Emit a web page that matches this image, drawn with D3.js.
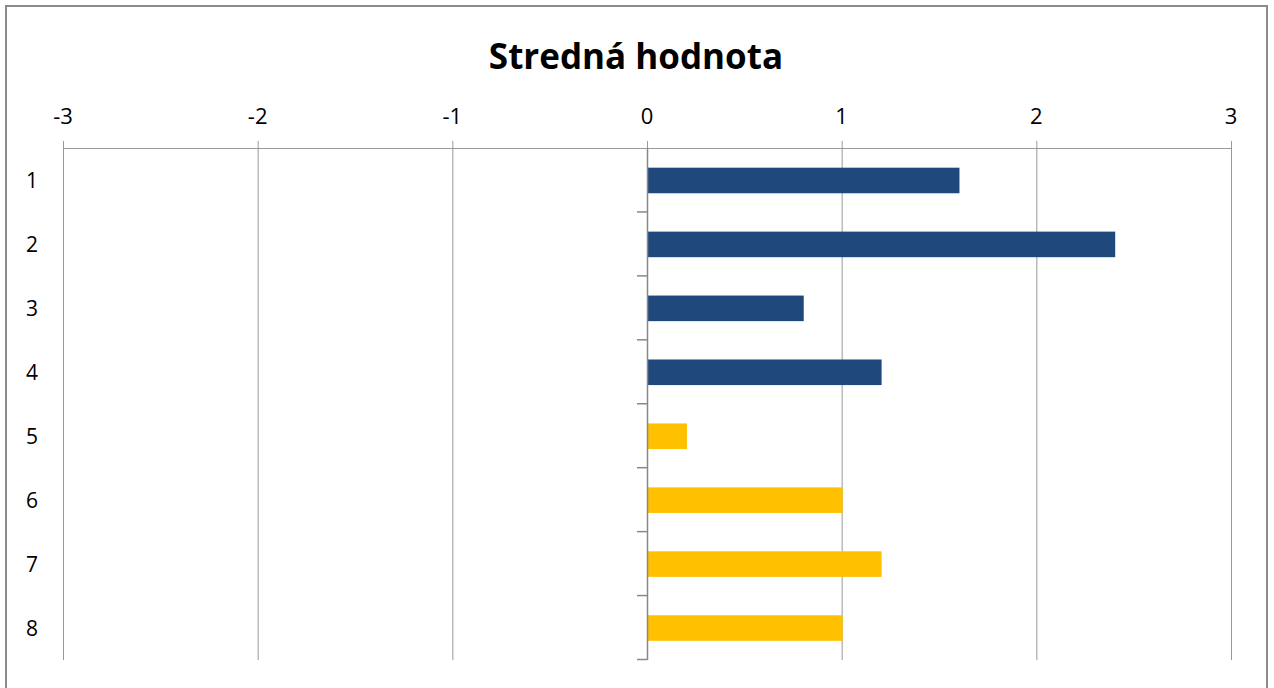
<!DOCTYPE html>
<html>
<head>
<meta charset="utf-8">
<script src="https://cdn.jsdelivr.net/npm/d3@7"></script>
<style>
  body { margin: 0; background: #fff; }
  text { font-family: "Open Sans", sans-serif; fill: #000; }
</style>
</head>
<body>
<script>
// chart data
var categories = ["1", "2", "3", "4", "5", "6", "7", "8"];
var values = [1.6, 2.4, 0.8, 1.2, 0.2, 1.0, 1.2, 1.0];
var groups = ["a", "a", "a", "a", "b", "b", "b", "b"];
var xTicks = [-3, -2, -1, 0, 1, 2, 3];
var title = "Stredná hodnota";

var w = 1274;
var h = 688;
var colors = { a: "#1F497D", b: "#FFC000" };

var svg = d3.select("body").append("svg")
  .attr("width", w)
  .attr("height", h);

// outer frame
svg.append("rect")
  .attr("x", 6).attr("y", 6)
  .attr("width", 1261).attr("height", 700)
  .attr("fill", "#fff")
  .attr("stroke", "#8c8c8c")
  .attr("stroke-width", 2);

svg.append("text")
  .attr("x", 636).attr("y", 69)
  .attr("text-anchor", "middle")
  .style("font-size", "35px")
  .style("font-weight", "bold")
  .text(title);

var x = d3.scaleLinear().domain([-3, 3]).range([63, 1231]);
var y = d3.scaleBand().domain(categories).range([148.5, 660]).paddingInner(0.6).paddingOuter(0.3);

// vertical gridlines
svg.append("g").selectAll("line")
  .data(xTicks)
  .join("line")
  .attr("x1", d => x(d) + 0.5).attr("x2", d => x(d) + 0.5)
  .attr("y1", 141).attr("y2", 660)
  .attr("stroke", "#999")
  .attr("stroke-width", 1);

// top axis line
svg.append("line")
  .attr("x1", x(-3)).attr("x2", x(3) + 1)
  .attr("y1", 148.5).attr("y2", 148.5)
  .attr("stroke", "#999");

// tick labels
svg.append("g").selectAll("text")
  .data(xTicks)
  .join("text")
  .attr("x", d => x(d))
  .attr("y", 124)
  .attr("text-anchor", "middle")
  .style("font-size", "22px")
  .text(d => d);

// bars
svg.append("g").selectAll("rect")
  .data(values)
  .join("rect")
  .attr("x", d => x(Math.min(0, d)) + 1)
  .attr("y", (d, i) => y(categories[i]))
  .attr("width", d => Math.abs(x(d) - x(0)))
  .attr("height", y.bandwidth())
  .attr("fill", (d, i) => colors[groups[i]]);

// category axis at zero
var step = y.step();
svg.append("line")
  .attr("x1", x(0) + 0.5).attr("x2", x(0) + 0.5)
  .attr("y1", 148).attr("y2", 660)
  .attr("stroke", "#888")
  .attr("stroke-width", 1.5);

svg.append("g").selectAll("line")
  .data(categories)
  .join("line")
  .attr("x1", x(0) - 10).attr("x2", x(0) + 0.5)
  .attr("y1", (d, i) => 148 + step * (i + 1))
  .attr("y2", (d, i) => 148 + step * (i + 1))
  .attr("stroke", "#888")
  .attr("stroke-width", 1.5);

// category labels
svg.append("g").selectAll("text")
  .data(categories)
  .join("text")
  .attr("x", 32)
  .attr("y", d => y(d) + y.bandwidth() / 2 + 8)
  .attr("text-anchor", "middle")
  .style("font-size", "21px")
  .text(d => d);
</script>
</body>
</html>
